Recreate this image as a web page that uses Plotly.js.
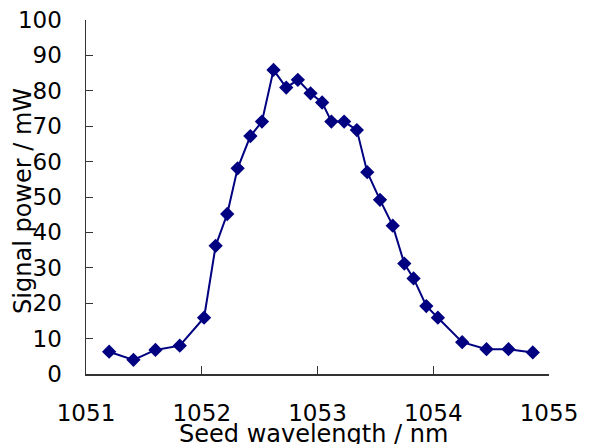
<!DOCTYPE html>
<html>
<head>
<meta charset="utf-8">
<script src="https://cdn.plot.ly/plotly-3.0.1.min.js"></script>
<style>html,body{margin:0;padding:0;background:#fff;}#chart{width:591px;height:444px;}</style>
</head>
<body>
<div id="chart"></div>
<script>
const wavelength = [1051.20, 1051.41, 1051.60, 1051.81, 1052.02, 1052.12, 1052.22, 1052.31, 1052.42, 1052.52,
  1052.62, 1052.73, 1052.83, 1052.94, 1053.04, 1053.12, 1053.23, 1053.34, 1053.43, 1053.54,
  1053.65, 1053.75, 1053.83, 1053.94, 1054.04, 1054.25, 1054.46, 1054.65, 1054.86];
const signalPower = [6.3, 4.0, 6.8, 8.0, 15.9, 36.2, 45.2, 58.1, 67.2, 71.3,
  85.9, 80.9, 83.1, 79.3, 76.7, 71.3, 71.3, 68.9, 57.0, 49.2,
  41.9, 31.2, 27.0, 19.2, 15.9, 9.0, 7.0, 7.0, 6.1];
const xTicks = [1051, 1052, 1053, 1054, 1055];
const yTicks = [0, 10, 20, 30, 40, 50, 60, 70, 80, 90, 100];
const xTitle = 'Seed wavelength / nm';
const yTitle = 'Signal power / mW';

const font = 'DejaVu Sans, Verdana, sans-serif';
const trace = {
  x: wavelength, y: signalPower, type: 'scatter', mode: 'lines+markers',
  line: {color: '#000080', width: 2},
  marker: {symbol: 'diamond', size: 11, color: '#000080'},
  showlegend: false
};
const layout = {
  width: 591, height: 444,
  margin: {l: 86, r: 42, t: 20, b: 70},
  paper_bgcolor: '#fff', plot_bgcolor: '#fff',
  font: {family: font, size: 23, color: '#000'},
  xaxis: {
    range: [1051, 1055], tickvals: xTicks, ticktext: xTicks.map(String),
    ticks: 'inside', ticklen: 8, tickcolor: '#333', tickwidth: 1,
    showline: true, linecolor: '#333', linewidth: 1.5,
    showgrid: false, zeroline: false, ticklabelstandoff: 18,
    tickfont: {family: font, size: 23, color: '#000'}
  },
  yaxis: {
    range: [0, 100], tickvals: yTicks, ticktext: yTicks.map(String),
    ticks: 'inside', ticklen: 7, tickcolor: '#333', tickwidth: 1,
    showline: true, linecolor: '#333', linewidth: 1.5,
    showgrid: false, zeroline: false, ticklabelstandoff: 18,
    tickfont: {family: font, size: 23, color: '#000'}
  },
  annotations: [
    {text: xTitle, xref: 'paper', yref: 'paper', x: 0.492, y: -0.17,
     xanchor: 'center', yanchor: 'middle', showarrow: false,
     font: {family: font, size: 24, color: '#000'}},
    {text: yTitle, xref: 'paper', yref: 'paper', x: -0.136, y: 0.489,
     xanchor: 'center', yanchor: 'middle', showarrow: false, textangle: -90,
     font: {family: font, size: 24, color: '#000'}}
  ]
};
Plotly.newPlot('chart', [trace], layout, {displayModeBar: false, staticPlot: true});
</script>
</body>
</html>
